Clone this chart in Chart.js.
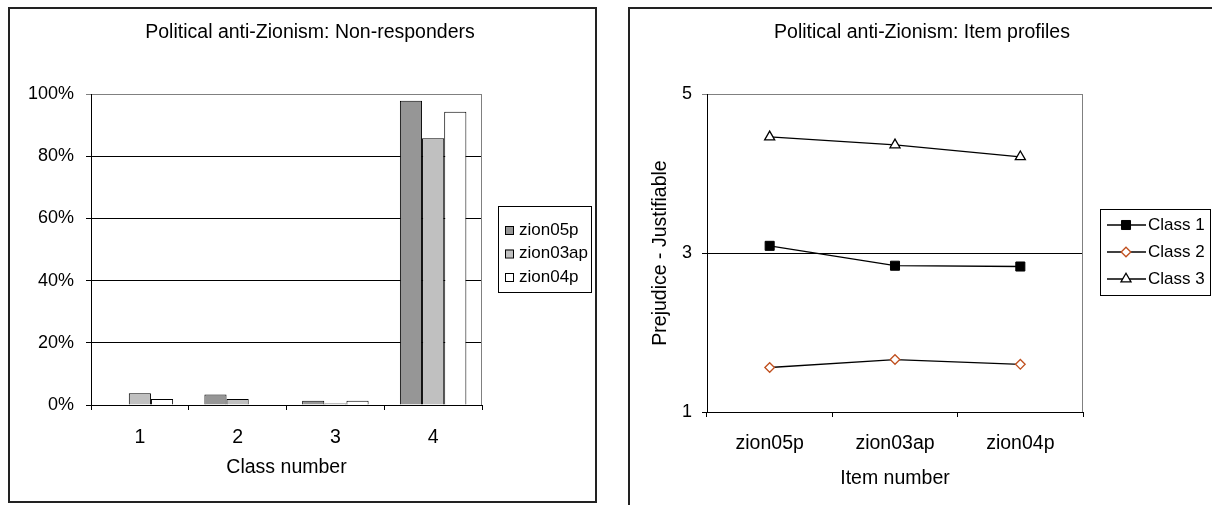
<!DOCTYPE html>
<html>
<head>
<meta charset="utf-8">
<script src="https://cdn.jsdelivr.net/npm/chart.js@4.4.1/dist/chart.umd.min.js"></script>
<style>
  body { margin: 0; background: #fff; width: 1212px; height: 505px; overflow: hidden; position: relative; }
  #leftBox { position: absolute; left: 8px; top: 7px; width: 589px; height: 496px; border: 2px solid #222; box-sizing: border-box; }
  #rightBox { position: absolute; left: 628px; top: 7px; width: 700px; height: 600px; border-left: 2px solid #222; border-top: 2px solid #222; box-sizing: border-box; }
  canvas { display: block; }
</style>
</head>
<body>
<div id="leftBox"><canvas id="nonRespChart" width="585" height="492"></canvas></div>
<div id="rightBox"><canvas id="profileChart" width="590" height="496"></canvas></div>
<script>
// Data
const classLabels = ['1', '2', '3', '4'];
const zion05p = [0, 3.4, 1.4, 97.8];
const zion03ap = [3.8, 1.9, 0.5, 85.8];
const zion04p = [1.9, 0, 1.4, 94.3];

const itemLabels = ['zion05p', 'zion03ap', 'zion04p'];
const class1 = [3.09, 2.84, 2.83];
const class2 = [1.56, 1.66, 1.60];
const class3 = [4.46, 4.36, 4.21];

const FONT = '"Liberation Sans", Arial, sans-serif';
Chart.defaults.font.family = FONT;
Chart.defaults.font.size = 18;
Chart.defaults.color = '#000';

// chart heading, centred on the whole chart box (not just the plot)
const heading = {
    id: 'heading',
    afterDraw(chart, args, o) {
        const ctx = chart.ctx;
        ctx.save();
        ctx.font = o.size + 'px ' + FONT;
        ctx.fillStyle = '#000';
        ctx.textAlign = 'center';
        ctx.textBaseline = 'middle';
        ctx.fillText(o.text, o.x, o.y);
        ctx.restore();
    }
};

// gray frame on the right side of the plot area (Excel style)
const plotFrame = {
    id: 'plotFrame',
    beforeDatasetsDraw(chart) {
        const { ctx, chartArea: a } = chart;
        ctx.save();
        ctx.strokeStyle = '#808080';
        ctx.lineWidth = 1;
        ctx.beginPath();
        ctx.moveTo(a.right - 0.5, a.top);
        ctx.lineTo(a.right - 0.5, a.bottom);
        ctx.stroke();
        ctx.restore();
    }
};

// boxed legend drawn from the datasets
const boxLegend = {
    id: 'boxLegend',
    afterDraw(chart, args, o) {
        const ctx = chart.ctx;
        ctx.save();
        ctx.lineWidth = 1;
        ctx.strokeStyle = '#000';
        ctx.strokeRect(o.left + 0.5, o.top + 0.5, o.width, o.height);
        ctx.font = o.fontSize + 'px ' + FONT;
        ctx.textBaseline = 'middle';
        chart.data.datasets.forEach((ds, i) => {
            const y = o.firstRow + i * o.rowGap;
            if (o.kind === 'bar') {
                ctx.fillStyle = ds.backgroundColor;
                ctx.fillRect(o.markX, y - 4, 8, 8);
                ctx.strokeStyle = '#000';
                ctx.strokeRect(o.markX + 0.5, y - 4 + 0.5, 8, 8);
            } else {
                ctx.strokeStyle = ds.borderColor;
                ctx.lineWidth = ds.borderWidth;
                ctx.beginPath();
                ctx.moveTo(o.markX - 19, y);
                ctx.lineTo(o.markX + 20, y);
                ctx.stroke();
                ctx.fillStyle = ds.pointBackgroundColor;
                ctx.strokeStyle = ds.pointBorderColor;
                ctx.lineWidth = ds.pointBorderWidth;
                Chart.helpers.drawPoint(ctx, {
                    pointStyle: ds.pointStyle, radius: ds.pointRadius,
                    borderWidth: ds.pointBorderWidth, rotation: 0
                }, o.markX, y);
            }
            ctx.fillStyle = '#000';
            ctx.fillText(ds.label, o.textX, y);
        });
        ctx.restore();
    }
};

// 1. Non-responders bar chart
new Chart(document.getElementById('nonRespChart'), {
    type: 'bar',
    data: {
        labels: classLabels,
        datasets: [
            { label: 'zion05p', data: zion05p, backgroundColor: '#969696' },
            { label: 'zion03ap', data: zion03ap, backgroundColor: '#c0c0c0' },
            { label: 'zion04p', data: zion04p, backgroundColor: '#ffffff' }
        ]
    },
    options: {
        responsive: false,
        animation: false,
        layout: { padding: { left: 0, right: 113, top: 85, bottom: 0 } },
        datasets: {
            bar: { borderColor: '#000', borderWidth: 1, categoryPercentage: 0.68, barPercentage: 1 }
        },
        plugins: {
            legend: { display: false },
            tooltip: { enabled: false },
            heading: { text: 'Political anti-Zionism: Non-responders', x: 300, y: 24, size: 19.5 },
            boxLegend: {
                kind: 'bar', left: 488, top: 197, width: 93, height: 86,
                firstRow: 221, rowGap: 23.5, markX: 495, textX: 509, fontSize: 17
            }
        },
        scales: {
            x: {
                afterFit: s => { s.height = 96; },
                grid: { drawOnChartArea: false, tickLength: 5, color: '#000', offset: true },
                border: { color: '#000', width: 1 },
                ticks: { padding: 16, font: { size: 19.5 } },
                title: { display: true, text: 'Class number', font: { size: 19.5 }, padding: { top: 0, bottom: 22 } }
            },
            y: {
                min: 0, max: 100,
                afterFit: s => { s.width = 81; },
                grid: {
                    tickLength: 5,
                    color: c => (c.tick && c.tick.value === 100 ? '#808080' : '#000')
                },
                border: { color: '#000', width: 1 },
                ticks: { stepSize: 20, padding: 12, callback: v => v + '%', font: { size: 18 } }
            }
        }
    },
    plugins: [plotFrame, boxLegend, heading]
});

// 2. Item profiles line chart
new Chart(document.getElementById('profileChart'), {
    type: 'line',
    data: {
        labels: itemLabels,
        datasets: [
            {
                label: 'Class 1', data: class1, borderColor: '#000', borderWidth: 1.3,
                pointStyle: 'rect', pointRadius: 6.4, pointBackgroundColor: '#000',
                pointBorderColor: '#000', pointBorderWidth: 1
            },
            {
                label: 'Class 2', data: class2, borderColor: '#000', borderWidth: 1.3,
                pointStyle: 'rectRot', pointRadius: 4.8, pointBackgroundColor: '#fff',
                pointBorderColor: '#c0501f', pointBorderWidth: 1.3
            },
            {
                label: 'Class 3', data: class3, borderColor: '#000', borderWidth: 1.3,
                pointStyle: 'triangle', pointRadius: 5.8, pointBackgroundColor: '#fff',
                pointBorderColor: '#000', pointBorderWidth: 1.3
            }
        ]
    },
    options: {
        responsive: false,
        animation: false,
        layout: { padding: { left: 0, right: 137, top: 85, bottom: 0 } },
        plugins: {
            legend: { display: false },
            tooltip: { enabled: false },
            heading: { text: 'Political anti-Zionism: Item profiles', x: 292, y: 24, size: 19.5 },
            boxLegend: {
                kind: 'line', left: 470, top: 200, width: 110, height: 86,
                firstRow: 216, rowGap: 27, markX: 496, textX: 518, fontSize: 17
            }
        },
        scales: {
            x: {
                offset: true,
                afterFit: s => { s.height = 93; },
                grid: { drawOnChartArea: false, tickLength: 5, color: '#000', offset: true },
                border: { color: '#000', width: 1 },
                ticks: { padding: 15, font: { size: 19.5 } },
                title: { display: true, text: 'Item number', font: { size: 19.5 }, padding: { top: 0, bottom: 15 } }
            },
            y: {
                min: 1, max: 5,
                afterFit: s => { s.width = 77; },
                grid: {
                    tickLength: 5,
                    color: c => (c.tick && c.tick.value === 5 ? '#808080' : '#000')
                },
                border: { color: '#000', width: 1 },
                ticks: { stepSize: 2, padding: 10, font: { size: 18 } },
                title: { display: true, text: 'Prejudice - Justifiable', font: { size: 19.5 }, padding: { top: 19, bottom: 0 } }
            }
        }
    },
    plugins: [plotFrame, boxLegend, heading]
});
</script>
</body>
</html>
